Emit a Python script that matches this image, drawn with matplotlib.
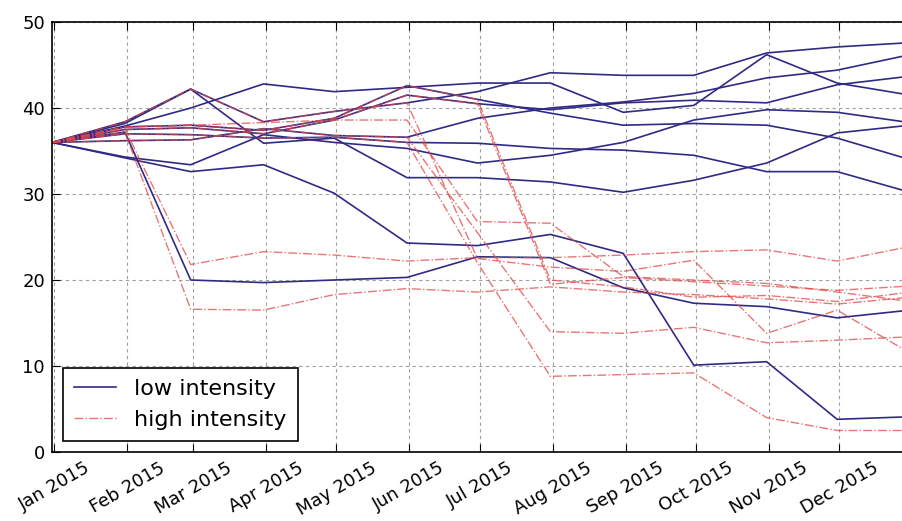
import pandas as pd
import numpy as np
import matplotlib
matplotlib.use('Agg')
import matplotlib.pyplot as plt
import matplotlib.dates as mdates

# month-end sample dates
dates = pd.date_range('2014-12-31', periods=13, freq='ME')

# low intensity runs
low_a = [36, 38.4, 42.2, 38.4, 39.6, 40.6, 41.9, 44.1, 43.8, 43.8, 46.4, 47.1, 47.6]
low_b = [36, 37.9, 40.0, 42.8, 41.9, 42.4, 42.9, 42.9, 39.5, 40.3, 46.2, 42.9, 41.5]
low_c = [36, 36.2, 36.3, 37.6, 36.8, 36.6, 38.8, 40.0, 40.7, 41.7, 43.5, 44.4, 46.2]
low_d = [36, 37.5, 37.7, 37.0, 38.6, 41.5, 40.5, 39.8, 40.6, 40.9, 40.6, 42.7, 43.7]
low_e = [36, 34.3, 33.4, 36.9, 36.0, 35.3, 33.6, 34.5, 36.0, 38.6, 39.8, 39.5, 38.3]
low_f = [36, 37.8, 38.0, 37.4, 38.8, 42.6, 41.0, 39.4, 38.0, 38.2, 38.0, 36.5, 34.0]
low_g = [36, 38.2, 42.2, 35.9, 36.5, 31.9, 31.9, 31.4, 30.2, 31.6, 33.6, 37.1, 38.0]
low_h = [36, 37.0, 36.9, 36.5, 36.6, 36.0, 35.9, 35.3, 35.1, 34.5, 32.6, 32.6, 30.2]
low_i = [36, 37.2, 20.0, 19.7, 20.0, 20.3, 22.7, 22.6, 19.1, 17.3, 16.9, 15.6, 16.5]
low_j = [36, 34.2, 32.6, 33.4, 30.1, 24.3, 24.0, 25.3, 23.1, 10.1, 10.5, 3.8, 4.1]
low_runs = [low_a, low_b, low_c, low_d, low_e, low_f, low_g, low_h, low_i, low_j]

# high intensity runs
high_a = [36, 37.6, 21.8, 23.3, 22.9, 22.2, 22.6, 22.6, 22.9, 23.3, 23.5, 22.2, 23.9]
high_b = [36, 37.2, 16.6, 16.5, 18.3, 19.0, 18.6, 19.2, 18.6, 18.3, 17.8, 17.2, 18.0]
high_c = [36, 37.8, 38.0, 38.3, 38.6, 38.6, 26.8, 26.6, 20.4, 20.0, 19.6, 18.6, 17.5]
high_d = [36, 37.0, 36.9, 36.5, 36.6, 36.0, 22.0, 8.8, 9.0, 9.2, 4.0, 2.5, 2.5]
high_e = [36, 36.2, 36.3, 37.6, 36.8, 36.6, 25.5, 14.0, 13.8, 14.5, 12.7, 13.0, 13.4]
high_f = [36, 37.8, 38.0, 37.4, 38.8, 42.6, 41.0, 20.0, 19.2, 18.0, 18.2, 17.5, 18.6]
high_g = [36, 38.4, 42.2, 38.4, 39.6, 40.6, 22.5, 21.5, 21.0, 22.3, 13.8, 16.5, 11.5]
high_h = [36, 37.5, 37.7, 37.0, 38.6, 41.5, 40.5, 19.5, 20.3, 19.8, 19.3, 18.8, 19.3]
high_runs = [high_a, high_b, high_c, high_d, high_e, high_f, high_g, high_h]

fig = plt.figure(figsize=(9.03, 5.21), dpi=100)
ax = fig.add_axes([52/903, 69/521, 858/903, 430/521])

for i, run in enumerate(low_runs):
    ax.plot(dates, run, color='#2f2a85', lw=1.2, label='low intensity' if i == 0 else None)
for i, run in enumerate(high_runs):
    ax.plot(dates, run, color='#e04848', lw=1.0, ls='-.', alpha=0.75,
            label='high intensity' if i == 0 else None)

ax.set_xlim(dates[0], dates[-1])
ax.set_ylim(0, 50)
ax.set_yticks(range(0, 51, 10))
ax.xaxis.set_major_locator(mdates.MonthLocator())
ax.xaxis.set_major_formatter(mdates.DateFormatter('%b %Y'))
for lbl in ax.get_xticklabels():
    lbl.set_rotation(30)
    lbl.set_ha('center')

ax.tick_params(direction='in', length=6, top=True, right=True, labelsize=13, pad=5)
ax.grid(True, color='#a0a0a0', ls=(0, (3, 3)), lw=0.8)
for s in ax.spines.values():
    s.set_linewidth(1.2)

leg = ax.legend(loc='lower left', fontsize=16, fancybox=False, framealpha=1,
                edgecolor='black', borderaxespad=0.5, handlelength=1.9,
                borderpad=0.5, labelspacing=0.5)
leg.get_frame().set_linewidth(1.2)

fig.savefig('out.png', dpi=100)
